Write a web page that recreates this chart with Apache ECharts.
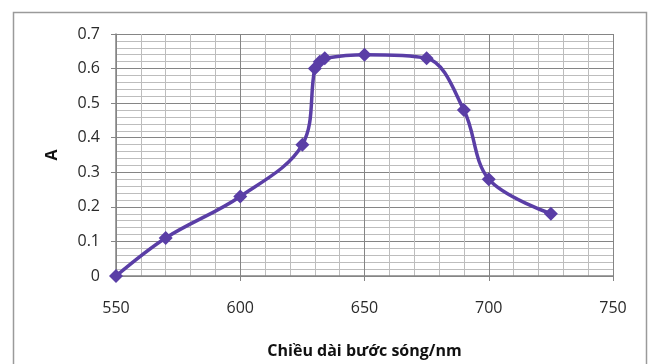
<!DOCTYPE html>
<html><head><meta charset="utf-8">
<script src="https://cdn.jsdelivr.net/npm/echarts@6/dist/echarts.min.js"></script>
<style>html,body{margin:0;padding:0;background:#fff}#c{width:649px;height:364px}</style>
</head><body><div id="c"></div>
<script>
const wavelengths = [550, 570, 600, 625, 630, 632, 634, 650, 675, 690, 700, 725];
const absorbance = [0, 0.11, 0.23, 0.38, 0.60, 0.62, 0.63, 0.64, 0.63, 0.48, 0.28, 0.18];
const xTitle = 'Chiều dài bước sóng/nm';
const yTitle = 'A';

const chart = echarts.init(document.getElementById('c'), null, {renderer: 'canvas'});
const font = '"Open Sans", "Liberation Sans", sans-serif';
chart.setOption({
  animation: false,
  graphic: [{type: 'rect', shape: {x: 13.5, y: 12.5, width: 633, height: 360}, style: {fill: 'none', stroke: '#9a9a9a', lineWidth: 1.5}, z: -1}],
  grid: {left: 116, right: 36, top: 34, bottom: 85},
  xAxis: {
    type: 'value', min: 550, max: 750, interval: 50,
    minorTick: {show: false, splitNumber: 5},
    minorSplitLine: {show: true, lineStyle: {color: '#bdbdbd', width: 1}},
    splitLine: {show: true, lineStyle: {color: '#858585', width: 1}},
    axisLine: {show: true, onZero: false, lineStyle: {color: '#858585', width: 1.5}},
    axisTick: {show: true, length: 5, lineStyle: {color: '#858585'}},
    axisLabel: {color: '#2a2a2a', fontSize: 16, fontFamily: font, margin: 24},
    name: xTitle, nameLocation: 'middle', nameGap: 67,
    nameTextStyle: {color: '#111', fontSize: 16, fontWeight: 'bold', fontFamily: font}
  },
  yAxis: {
    type: 'value', min: 0, max: 0.7, interval: 0.1,
    minorTick: {show: false, splitNumber: 5},
    minorSplitLine: {show: true, lineStyle: {color: '#bdbdbd', width: 1}},
    splitLine: {show: true, lineStyle: {color: '#858585', width: 1}},
    axisLine: {show: true, lineStyle: {color: '#858585', width: 1.5}},
    axisTick: {show: true, length: 5, lineStyle: {color: '#858585'}},
    axisLabel: {color: '#2a2a2a', fontSize: 16, fontFamily: font, margin: 16,
      formatter: v => String(Math.round(v * 10) / 10)},
    name: yTitle, nameLocation: 'middle', nameGap: 56, nameRotate: 90,
    nameTextStyle: {color: '#111', fontSize: 16, fontWeight: 'bold', fontFamily: font}
  },
  series: [{
    type: 'line', smooth: 0.35,
    data: wavelengths.map((w, i) => [w, absorbance[i]]),
    symbol: 'diamond', symbolSize: 14,
    lineStyle: {color: '#5a3ea6', width: 3.5},
    itemStyle: {color: '#5a3ea6'}
  }]
});
</script></body></html>
